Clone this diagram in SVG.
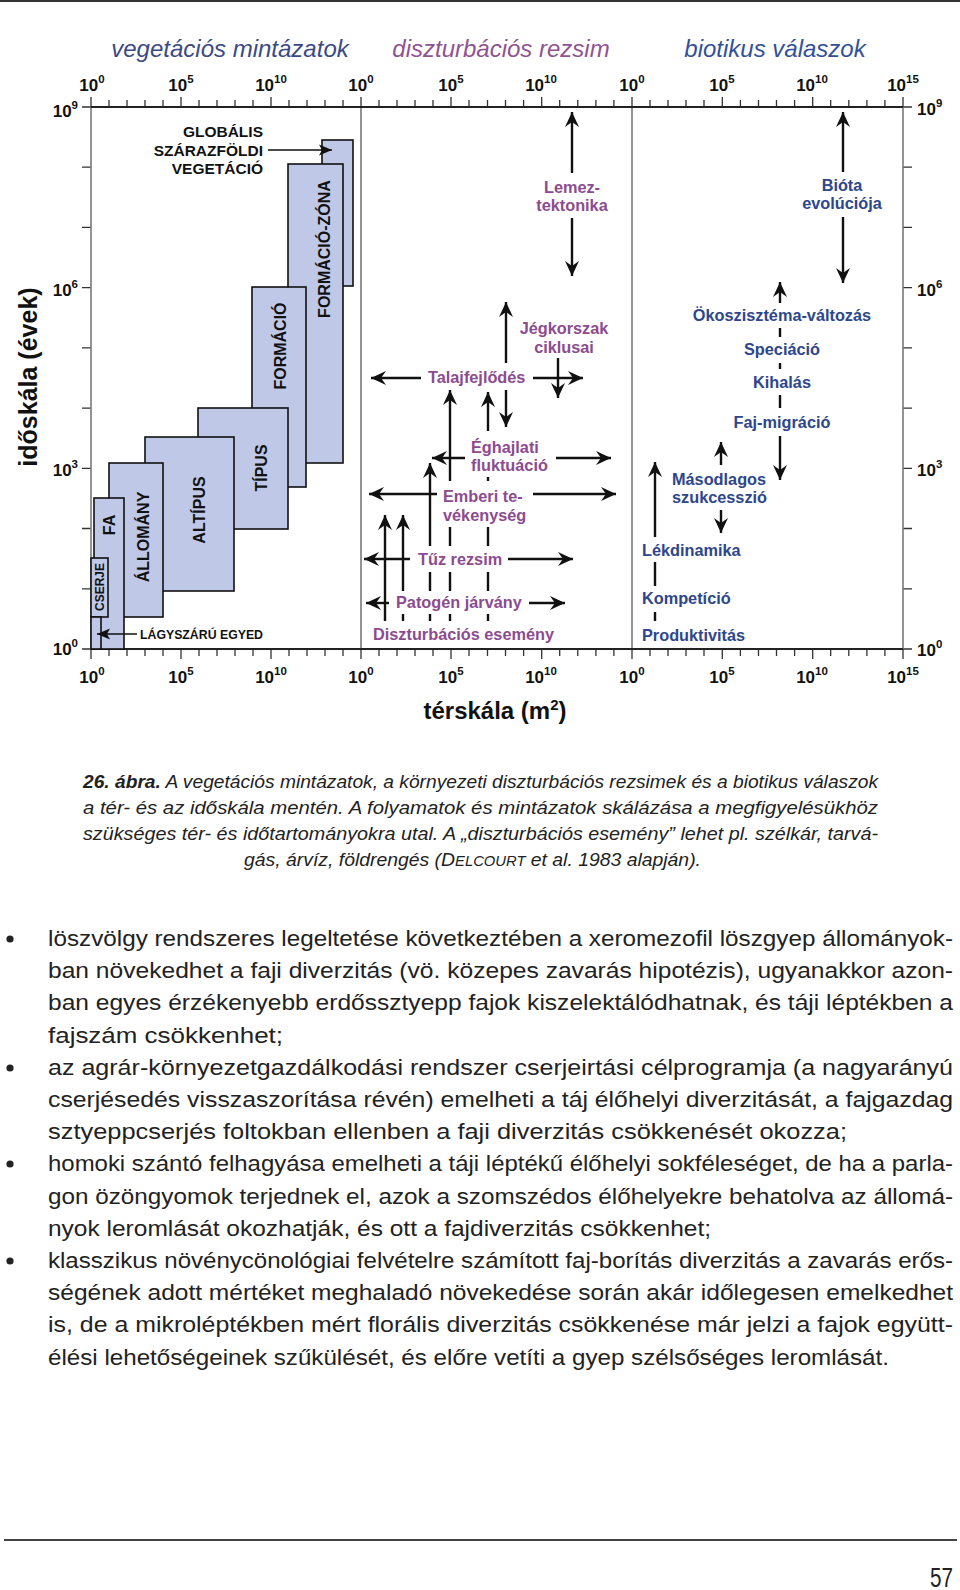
<svg xmlns="http://www.w3.org/2000/svg" width="960" height="1590" viewBox="0 0 960 1590">
<defs>
<style>
text{font-family:"Liberation Sans",Arial,sans-serif}
.ttl{font-size:24px;font-style:italic;text-anchor:middle}
.ax{font-size:17px;font-weight:bold;fill:#111}
.axm{text-anchor:middle}
.axe{text-anchor:end}
.box{fill:#bfc8e6;stroke:#111;stroke-width:1.6}
.bl{font-size:16px;font-weight:bold;fill:#111;text-anchor:middle}
.bls{font-size:12px}
.gl{font-size:15.5px;font-weight:bold;fill:#111;text-anchor:end}
.pl{font-size:16.3px;font-weight:bold;fill:#8c4b91}
.bb{font-size:16.3px;font-weight:bold;fill:#2d468c}
.mid{text-anchor:middle}
.wb{fill:#fff}
.a{stroke:#111;stroke-width:2.4;fill:none;marker-end:url(#ah)}
.as{stroke:#111;stroke-width:1.6;fill:none;marker-end:url(#ahs)}
.tk{stroke:#333;stroke-width:1.3;fill:none}
.cap{font-size:19px;font-style:italic;fill:#222}
.body{font-size:22.5px;fill:#222}
</style>
<marker id="ah" viewBox="-16 -8 17 16" refX="0" refY="0" markerWidth="17" markerHeight="16" markerUnits="userSpaceOnUse" orient="auto"><path d="M0,0 L-15,-7 L-10,0 L-15,7 Z" fill="#111"/></marker>
<marker id="ahs" viewBox="-14 -7 15 14" refX="0" refY="0" markerWidth="15" markerHeight="14" markerUnits="userSpaceOnUse" orient="auto"><path d="M0,0 L-13,-5.5 L-10,0 L-13,5.5 Z" fill="#111"/></marker>
</defs>
<rect width="960" height="1590" fill="#fff"/>
<line x1="0" y1="1" x2="960" y2="1" stroke="#333" stroke-width="2"/>

<g id="titles">
<text class="ttl" x="230" y="57" fill="#3b4a85">vegetációs mintázatok</text>
<text class="ttl" x="501" y="57" fill="#8f5393">diszturbációs rezsim</text>
<text class="ttl" x="775" y="57" fill="#33509b">biotikus válaszok</text>
</g>

<g id="axes">
<path class="tk" d="M109 107v-7M127 107v-7M145 107v-7M163 107v-7M199 107v-7M217 107v-7M235 107v-7M253 107v-7M289 107v-7M307 107v-7M325 107v-7M343 107v-7M379 107v-7M397 107v-7M415 107v-7M433 107v-7M469 107v-7M487.5 107v-7M505.5 107v-7M523.6 107v-7M559.7 107v-7M577.8 107v-7M595.9 107v-7M613.9 107v-7M650 107v-7M668 107v-7M686 107v-7M704 107v-7M740.4 107v-7M758.5 107v-7M776.5 107v-7M794.6 107v-7M830.7 107v-7M848.8 107v-7M866.9 107v-7M884.9 107v-7"/>
<path class="tk" d="M91 107v-10M181 107v-10M271 107v-10M361 107v-10M451 107v-10M541.7 107v-10M632 107v-10M722.3 107v-10M812.7 107v-10M903 107v-10"/>
<path class="tk" d="M109 649v7M127 649v7M145 649v7M163 649v7M199 649v7M217 649v7M235 649v7M253 649v7M289 649v7M307 649v7M325 649v7M343 649v7M379 649v7M397 649v7M415 649v7M433 649v7M469 649v7M487.5 649v7M505.5 649v7M523.6 649v7M559.7 649v7M577.8 649v7M595.9 649v7M613.9 649v7M650 649v7M668 649v7M686 649v7M704 649v7M740.4 649v7M758.5 649v7M776.5 649v7M794.6 649v7M830.7 649v7M848.8 649v7M866.9 649v7M884.9 649v7"/>
<path class="tk" d="M91 649v10M181 649v10M271 649v10M361 649v10M451 649v10M541.7 649v10M632 649v10M722.3 649v10M812.7 649v10M903 649v10"/>
<path class="tk" d="M82 107h9M82 167.2h9M82 227.4h9M82 287.7h9M82 347.9h9M82 408.1h9M82 468.3h9M82 528.5h9M82 588.8h9M82 649h9"/>
<path class="tk" d="M903 107h9M903 167.2h9M903 227.4h9M903 287.7h9M903 347.9h9M903 408.1h9M903 468.3h9M903 528.5h9M903 588.8h9M903 649h9"/>
<path d="M91 107V649M361 107V649M632 107V649M903 107V649" stroke="#7a7a7a" stroke-width="1.6" fill="none"/>
<path d="M91 107H903M91 649H903" stroke="#222" stroke-width="1.8" fill="none"/>
<g class="ax axm">
<text x="92" y="91">10<tspan dy="-8" font-size="11.5">0</tspan></text>
<text x="181" y="91">10<tspan dy="-8" font-size="11.5">5</tspan></text>
<text x="271" y="91">10<tspan dy="-8" font-size="11.5">10</tspan></text>
<text x="361" y="91">10<tspan dy="-8" font-size="11.5">0</tspan></text>
<text x="451" y="91">10<tspan dy="-8" font-size="11.5">5</tspan></text>
<text x="541" y="91">10<tspan dy="-8" font-size="11.5">10</tspan></text>
<text x="632" y="91">10<tspan dy="-8" font-size="11.5">0</tspan></text>
<text x="722" y="91">10<tspan dy="-8" font-size="11.5">5</tspan></text>
<text x="812" y="91">10<tspan dy="-8" font-size="11.5">10</tspan></text>
<text x="903" y="91">10<tspan dy="-8" font-size="11.5">15</tspan></text>
<text x="92" y="683">10<tspan dy="-8" font-size="11.5">0</tspan></text>
<text x="181" y="683">10<tspan dy="-8" font-size="11.5">5</tspan></text>
<text x="271" y="683">10<tspan dy="-8" font-size="11.5">10</tspan></text>
<text x="361" y="683">10<tspan dy="-8" font-size="11.5">0</tspan></text>
<text x="451" y="683">10<tspan dy="-8" font-size="11.5">5</tspan></text>
<text x="541" y="683">10<tspan dy="-8" font-size="11.5">10</tspan></text>
<text x="632" y="683">10<tspan dy="-8" font-size="11.5">0</tspan></text>
<text x="722" y="683">10<tspan dy="-8" font-size="11.5">5</tspan></text>
<text x="812" y="683">10<tspan dy="-8" font-size="11.5">10</tspan></text>
<text x="903" y="683">10<tspan dy="-8" font-size="11.5">15</tspan></text>
</g>
<g class="ax axe">
<text x="78" y="117">10<tspan dy="-8" font-size="11.5">9</tspan></text>
<text x="78" y="296">10<tspan dy="-8" font-size="11.5">6</tspan></text>
<text x="78" y="476">10<tspan dy="-8" font-size="11.5">3</tspan></text>
<text x="78" y="655">10<tspan dy="-8" font-size="11.5">0</tspan></text>
</g>
<g class="ax">
<text x="917" y="115">10<tspan dy="-8" font-size="11.5">9</tspan></text>
<text x="917" y="296">10<tspan dy="-8" font-size="11.5">6</tspan></text>
<text x="917" y="476">10<tspan dy="-8" font-size="11.5">3</tspan></text>
<text x="917" y="656">10<tspan dy="-8" font-size="11.5">0</tspan></text>
</g>
<text transform="translate(37,377) rotate(-90)" font-size="25" font-weight="bold" text-anchor="middle" fill="#111">időskála (évek)</text>
<text x="495" y="719" font-size="24" font-weight="bold" text-anchor="middle" fill="#111">térskála (m<tspan dy="-9" font-size="15">2</tspan><tspan dy="9">)</tspan></text>
</g>

<g id="connectors">
<line class="a" x1="421" y1="378" x2="371" y2="378"/>
<line class="a" x1="533" y1="378" x2="583" y2="378"/>
<line class="a" x1="465" y1="458" x2="432" y2="458"/>
<line class="a" x1="556" y1="458" x2="611" y2="458"/>
<line class="a" x1="437" y1="494" x2="369" y2="494"/>
<line class="a" x1="533" y1="494" x2="616" y2="494"/>
<line class="a" x1="410" y1="559" x2="364" y2="559"/>
<line class="a" x1="508" y1="559" x2="573" y2="559"/>
<line class="a" x1="389" y1="603" x2="366" y2="603"/>
<line class="a" x1="529" y1="603" x2="565" y2="603"/>
<line class="a" x1="506" y1="363" x2="506" y2="302"/>
<line class="a" x1="506" y1="390" x2="506" y2="427"/>
<line class="a" x1="558" y1="358" x2="558" y2="398"/>
<line class="a" x1="385" y1="621" x2="385" y2="515"/>
<line class="a" x1="403" y1="621" x2="403" y2="515"/>
<line class="a" x1="430" y1="621" x2="430" y2="463"/>
<line class="a" x1="450" y1="621" x2="450" y2="390"/>
<line class="a" x1="488" y1="621" x2="488" y2="392"/>
<line class="a" x1="572" y1="173" x2="572" y2="112"/>
<line class="a" x1="572" y1="218" x2="572" y2="276"/>
<line class="a" x1="843" y1="172" x2="843" y2="112"/>
<line class="a" x1="843" y1="217" x2="843" y2="283"/>
<line class="a" x1="780" y1="381" x2="780" y2="282"/>
<line class="a" x1="780" y1="380" x2="780" y2="480"/>
<line class="a" x1="721" y1="465" x2="721" y2="442"/>
<line class="a" x1="721" y1="510" x2="721" y2="533"/>
<line class="a" x1="655" y1="621" x2="655" y2="462"/>
</g>

<g id="vegetation">
<g id="globalis-box"><rect class="box" x="322" y="140" width="31" height="146"/></g>
<g id="formacio-zona"><rect class="box" x="288" y="164" width="55" height="299"/><text class="bl" transform="translate(330,249) rotate(-90)">FORMÁCIÓ-ZÓNA</text></g>
<g id="formacio"><rect class="box" x="252" y="287" width="54" height="200"/><text class="bl" transform="translate(286,346) rotate(-90)">FORMÁCIÓ</text></g>
<g id="tipus"><rect class="box" x="198" y="408" width="90" height="121"/><text class="bl" transform="translate(267,468) rotate(-90)">TÍPUS</text></g>
<g id="altipus"><rect class="box" x="145" y="437" width="89" height="154"/><text class="bl" transform="translate(205,510) rotate(-90)">ALTÍPUS</text></g>
<g id="allomany"><rect class="box" x="109" y="463" width="54" height="154"/><text class="bl" transform="translate(149,537) rotate(-90)">ÁLLOMÁNY</text></g>
<g id="fa"><rect class="box" x="94" y="498" width="30" height="151"/><text class="bl" transform="translate(115,525) rotate(-90)">FA</text></g>
<g id="cserje"><rect class="box" x="91" y="558" width="17" height="59"/><text class="bl bls" transform="translate(104,587) rotate(-90)">CSERJE</text></g>
<g id="lagyszaru"><rect class="box" x="91" y="617" width="10" height="32"/><text x="140" y="639" font-size="12.3" font-weight="bold" fill="#111">LÁGYSZÁRÚ EGYED</text></g>
<g id="globalis-label"><text class="gl" x="263" y="137">GLOBÁLIS</text><text class="gl" x="263" y="156">SZÁRAZFÖLDI</text><text class="gl" x="263" y="174">VEGETÁCIÓ</text></g>
</g>

<g id="connectors-vegetation">
<line class="as" x1="268" y1="150" x2="332" y2="150"/>
<line class="as" x1="137" y1="634" x2="97" y2="634"/>
</g>

<g id="disturbance">
<g id="lemez"><text class="pl mid" x="572" y="193">Lemez-</text><text class="pl mid" x="572" y="211">tektonika</text></g>
<g id="jegkorszak"><rect class="wb" x="516" y="318" width="96" height="39"/><text class="pl mid" x="564" y="334">Jégkorszak</text><text class="pl mid" x="564" y="353">ciklusai</text></g>
<g id="talaj"><rect class="wb" x="424" y="367" width="106" height="22"/><text class="pl" x="428" y="383">Talajfejlődés</text></g>
<g id="eghajlati"><rect class="wb" x="468" y="431" width="84" height="46"/><text class="pl" x="471" y="453">Éghajlati</text><text class="pl" x="471" y="471">fluktuáció</text></g>
<g id="emberi"><rect class="wb" x="440" y="481" width="92" height="46"/><text class="pl" x="443" y="502">Emberi te-</text><text class="pl" x="443" y="521">vékenység</text></g>
<g id="tuz"><rect class="wb" x="414" y="546" width="92" height="26"/><text class="pl" x="418" y="565">Tűz rezsim</text></g>
<g id="patogen"><rect class="wb" x="392" y="591" width="136" height="23"/><text class="pl" x="396" y="608">Patogén járvány</text></g>
<g id="diszt-esemeny"><rect class="wb" x="370" y="623" width="188" height="22"/><text class="pl" x="373" y="640">Diszturbációs esemény</text></g>
</g>

<g id="biotic">
<g id="biota"><text class="bb mid" x="842" y="191">Bióta</text><text class="bb mid" x="842" y="209">evolúciója</text></g>
<g id="okoszisztema"><rect class="wb" x="690" y="303" width="184" height="25"/><text class="bb mid" x="782" y="321">Ökoszisztéma-változás</text></g>
<g id="speciacio"><rect class="wb" x="735" y="337" width="94" height="26"/><text class="bb mid" x="782" y="355">Speciáció</text></g>
<g id="kihalas"><rect class="wb" x="745" y="369" width="74" height="26"/><text class="bb mid" x="782" y="388">Kihalás</text></g>
<g id="fajmigracio"><rect class="wb" x="731" y="408" width="100" height="28"/><text class="bb mid" x="782" y="428">Faj-migráció</text></g>
<g id="masodlagos"><text class="bb" x="672" y="485">Másodlagos</text><text class="bb" x="672" y="503">szukcesszió</text></g>
<g id="lekdinamika"><rect class="wb" x="640" y="537" width="102" height="25"/><text class="bb" x="642" y="556">Lékdinamika</text></g>
<g id="kompeticio"><rect class="wb" x="640" y="586" width="92" height="26"/><text class="bb" x="642" y="604">Kompetíció</text></g>
<g id="produktivitas"><text class="bb" x="642" y="641">Produktivitás</text></g>
</g>

<g id="caption" class="cap">
<text x="83" y="788" textLength="795" lengthAdjust="spacingAndGlyphs"><tspan font-weight="bold">26. ábra.</tspan> A vegetációs mintázatok, a környezeti diszturbációs rezsimek és a biotikus válaszok</text>
<text x="83" y="814" textLength="795" lengthAdjust="spacingAndGlyphs">a tér- és az időskála mentén. A folyamatok és mintázatok skálázása a megfigyelésükhöz</text>
<text x="83" y="840" textLength="795" lengthAdjust="spacingAndGlyphs">szükséges tér- és időtartományokra utal. A „diszturbációs esemény” lehet pl. szélkár, tarvá-</text>
<text x="244" y="866" textLength="457" lengthAdjust="spacingAndGlyphs">gás, árvíz, földrengés (D<tspan font-size="14.5">ELCOURT</tspan> et al. 1983 alapján).</text>
</g>

<g id="body" class="body">
<circle cx="10" cy="939" r="3.6" fill="#222"/>
<circle cx="10" cy="1068" r="3.6" fill="#222"/>
<circle cx="10" cy="1164" r="3.6" fill="#222"/>
<circle cx="10" cy="1261" r="3.6" fill="#222"/>
<text x="48" y="946" textLength="905" lengthAdjust="spacingAndGlyphs">löszvölgy rendszeres legeltetése következtében a xeromezofil löszgyep állományok-</text>
<text x="48" y="978.2" textLength="905" lengthAdjust="spacingAndGlyphs">ban növekedhet a faji diverzitás (vö. közepes zavarás hipotézis), ugyanakkor azon-</text>
<text x="48" y="1010.4" textLength="905" lengthAdjust="spacingAndGlyphs">ban egyes érzékenyebb erdőssztyepp fajok kiszelektálódhatnak, és táji léptékben a</text>
<text x="48" y="1042.6" textLength="235" lengthAdjust="spacingAndGlyphs">fajszám csökkenhet;</text>
<text x="48" y="1074.8" textLength="905" lengthAdjust="spacingAndGlyphs">az agrár-környezetgazdálkodási rendszer cserjeirtási célprogramja (a nagyarányú</text>
<text x="48" y="1107" textLength="905" lengthAdjust="spacingAndGlyphs">cserjésedés visszaszorítása révén) emelheti a táj élőhelyi diverzitását, a fajgazdag</text>
<text x="48" y="1139.2" textLength="799" lengthAdjust="spacingAndGlyphs">sztyeppcserjés foltokban ellenben a faji diverzitás csökkenését okozza;</text>
<text x="48" y="1171.4" textLength="905" lengthAdjust="spacingAndGlyphs">homoki szántó felhagyása emelheti a táji léptékű élőhelyi sokféleséget, de ha a parla-</text>
<text x="48" y="1203.6" textLength="905" lengthAdjust="spacingAndGlyphs">gon özöngyomok terjednek el, azok a szomszédos élőhelyekre behatolva az állomá-</text>
<text x="48" y="1235.8" textLength="663" lengthAdjust="spacingAndGlyphs">nyok leromlását okozhatják, és ott a fajdiverzitás csökkenhet;</text>
<text x="48" y="1268" textLength="905" lengthAdjust="spacingAndGlyphs">klasszikus növénycönológiai felvételre számított faj-borítás diverzitás a zavarás erős-</text>
<text x="48" y="1300.2" textLength="905" lengthAdjust="spacingAndGlyphs">ségének adott mértéket meghaladó növekedése során akár időlegesen emelkedhet</text>
<text x="48" y="1332.4" textLength="905" lengthAdjust="spacingAndGlyphs">is, de a mikroléptékben mért florális diverzitás csökkenése már jelzi a fajok együtt-</text>
<text x="48" y="1364.6" textLength="841" lengthAdjust="spacingAndGlyphs">élési lehetőségeinek szűkülését, és előre vetíti a gyep szélsőséges leromlását.</text>
</g>

<g id="footer">
<line x1="4" y1="1540" x2="957" y2="1540" stroke="#444" stroke-width="2"/>
<text x="930" y="1587" font-size="27" fill="#222" textLength="23" lengthAdjust="spacingAndGlyphs">57</text>
</g>
</svg>
